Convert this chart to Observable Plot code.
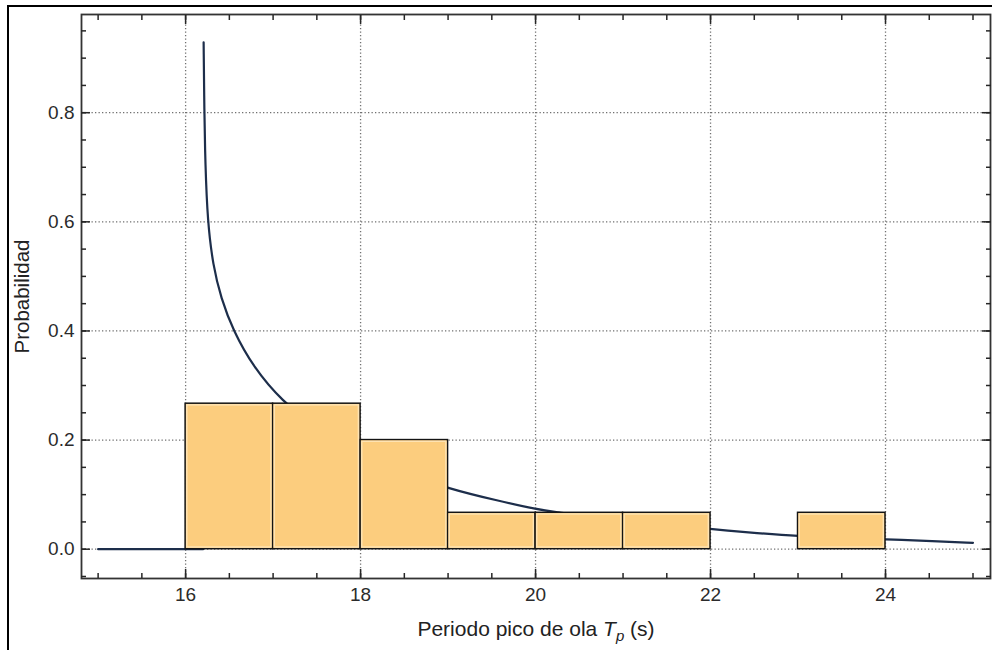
<!DOCTYPE html>
<html>
<head>
<meta charset="utf-8">
<script src="https://cdn.jsdelivr.net/npm/d3@7"></script>
<script src="https://cdn.jsdelivr.net/npm/@observablehq/plot@0.6"></script>
<style>
  body { margin: 0; background: #fff; }
  #wrap { position: relative; width: 992px; height: 650px; overflow: hidden; background: #fff; }
  #chart { position: absolute; left: 0; top: 0; }
  #border { position: absolute; left: 7px; top: 5px; width: 1100px; height: 800px;
            border-top: 2px solid #000; border-left: 2.5px solid #000; pointer-events: none; }
</style>
</head>
<body>
<div id="wrap"><div id="chart"></div><div id="border"></div></div>
<script>
// Histogram bins (period, s) and probabilities
const binStart = [16, 17, 18, 19, 20, 21, 23];
const binEnd = [17, 18, 19, 20, 21, 22, 24];
const probability = [0.2667, 0.2667, 0.2, 0.0667, 0.0667, 0.0667, 0.0667];

// Fitted PDF curve: zero part and decaying part
const zeroX = [15, 16.2];
const zeroY = [0, 0];
const pdfX = [16.206, 16.214, 16.225, 16.251, 16.313, 16.405, 16.542, 16.777, 17.102,
              17.5, 18.0, 18.5, 19.006, 19.56, 20.016, 20.245, 20.6, 21.0, 21.5,
              22.016, 22.225, 22.49, 23.006, 23.5, 24.0, 24.549, 25.0];
const pdfY = [0.929, 0.801, 0.707, 0.601, 0.520, 0.460, 0.401, 0.333, 0.271,
              0.222, 0.178, 0.140, 0.1107, 0.0893, 0.0728, 0.0679, 0.060, 0.053, 0.045,
              0.0370, 0.0335, 0.0300, 0.0239, 0.0210, 0.0183, 0.0147, 0.0117];

// Ticks
const xMajor = [16, 18, 20, 22, 24];
const xMinor = [15, 15.5, 16, 16.5, 17, 17.5, 18, 18.5, 19, 19.5, 20, 20.5, 21, 21.5, 22, 22.5, 23, 23.5, 24, 24.5, 25];
const yMajor = [0, 0.2, 0.4, 0.6, 0.8];
const yMinor = [-0.05, 0, 0.05, 0.1, 0.15, 0.2, 0.25, 0.3, 0.35, 0.4, 0.45, 0.5, 0.55, 0.6, 0.65, 0.7, 0.75, 0.8, 0.85, 0.9, 0.95];

const yTitle = "Probabilidad";
const xTitleParts = ["Periodo pico de ola ", "T", "p", " (s)"];
const xTitle = xTitleParts.join("");

const bars = binStart.map((s, i) => ({x1: s, x2: binEnd[i], p: probability[i]}));
const zeroLine = zeroX.map((x, i) => ({x, y: zeroY[i]}));
const pdfLine = pdfX.map((x, i) => ({x, y: pdfY[i]}));

const navy = "#1d2e4b";
const tickStroke = {stroke: "#262626", strokeWidth: 1.5, label: null, tickFormat: () => ""};
const gridStyle = {stroke: "#707070", strokeOpacity: 1, strokeWidth: 1.3, strokeDasharray: "1.3,2.2"};

const plot = Plot.plot({
  width: 992,
  height: 650,
  marginLeft: 81,
  marginRight: 2,
  marginTop: 14,
  marginBottom: 72,
  x: {domain: [14.81, 25.2], label: null},
  y: {domain: [-0.0537, 0.98], label: null},
  style: {fontFamily: "'Liberation Sans', Arial, sans-serif", fontSize: "19px", color: "#2b2b2b", background: "white"},
  marks: [
    Plot.gridX(xMajor, gridStyle),
    Plot.gridY(yMajor, gridStyle),
    Plot.line(zeroLine, {x: "x", y: "y", stroke: navy, strokeWidth: 2.2}),
    Plot.line(pdfLine, {x: "x", y: "y", stroke: navy, strokeWidth: 2.2, curve: "basis"}),
    Plot.rect(bars, {x1: "x1", x2: "x2", y1: 0, y2: "p", fill: "#fccd7e", stroke: "#141414", strokeWidth: 1.5}),
    Plot.rect(bars, {x1: "x1", x2: "x2", y1: 0, y2: "p", fill: "none", stroke: "#fee4b4", strokeWidth: 1.4, inset: 1.7}),
    Plot.frame({stroke: "#333", strokeWidth: 1.8}),
    // inward ticks on all four sides
    Plot.axisX(xMinor, {anchor: "bottom", tickSize: -5, ...tickStroke}),
    Plot.axisX(xMajor, {anchor: "bottom", tickSize: -9, ...tickStroke}),
    Plot.axisX(xMinor, {anchor: "top", tickSize: -5, ...tickStroke}),
    Plot.axisX(xMajor, {anchor: "top", tickSize: -9, ...tickStroke}),
    Plot.axisY(yMinor, {anchor: "left", tickSize: -5, ...tickStroke}),
    Plot.axisY(yMajor, {anchor: "left", tickSize: -9, ...tickStroke}),
    Plot.axisY(yMinor, {anchor: "right", tickSize: -5, ...tickStroke}),
    Plot.axisY(yMajor, {anchor: "right", tickSize: -9, ...tickStroke}),
    // tick labels
    Plot.axisX(xMajor, {anchor: "bottom", tickSize: 0, tickPadding: 9, label: null, tickFormat: d => String(d)}),
    Plot.axisY(yMajor, {anchor: "left", tickSize: 0, tickPadding: 7, label: null, tickFormat: d3.format(".1f")}),
    // axis titles
    Plot.text([yTitle], {text: d => d, frameAnchor: "left", rotate: -90, dx: -52.5, lineAnchor: "bottom", textAnchor: "middle", fontSize: 20.5, fill: "#222"}),
    Plot.text([xTitle], {text: d => d, frameAnchor: "bottom", dy: 57, lineAnchor: "bottom", textAnchor: "middle", fontSize: 21, fill: "#222"})
  ]
});

// rebuild the x title with italic T and subscript p
d3.select(plot).selectAll("text").filter(function () { return this.textContent === xTitle; })
  .each(function () {
    const t = d3.select(this);
    t.text(null);
    t.append("tspan").text(xTitleParts[0]);
    t.append("tspan").attr("font-style", "italic").text(xTitleParts[1]);
    t.append("tspan").attr("font-style", "italic").attr("font-size", "15px").attr("dy", "5").text(xTitleParts[2]);
    t.append("tspan").attr("dy", "-5").text(xTitleParts[3]);
  });

document.getElementById("chart").append(plot);
</script>
</body>
</html>
